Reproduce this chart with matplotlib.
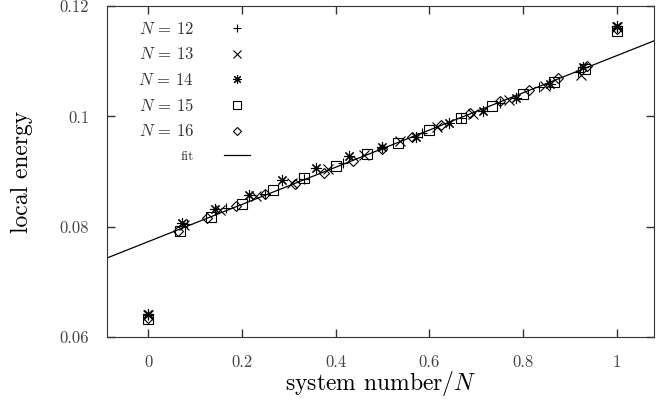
import matplotlib
matplotlib.use("Agg")
import matplotlib.pyplot as plt

plt.rcParams["font.family"] = "serif"
plt.rcParams["font.serif"] = ["cmr10", "DejaVu Serif"]
plt.rcParams["mathtext.fontset"] = "cm"
plt.rcParams["axes.formatter.use_mathtext"] = True

# site index k / N  ->  local energy, one list per chain length N
n12 = [0.0640, 0.0804, 0.0833, 0.0859, 0.0887, 0.0915, 0.0942, 0.0969, 0.0997,
       0.1025, 0.1053, 0.1080, 0.1160]
n13 = [0.0640, 0.0803, 0.0830, 0.0855, 0.0879, 0.0905, 0.0930, 0.0955, 0.0980,
       0.1005, 0.1030, 0.1055, 0.1075, 0.1162]
n14 = [0.0642, 0.0806, 0.0832, 0.0858, 0.0885, 0.0907, 0.0929, 0.0945, 0.0962,
       0.0988, 0.1010, 0.1033, 0.1058, 0.1090, 0.1163]
n15 = [0.0632, 0.0792, 0.0817, 0.0842, 0.0866, 0.0888, 0.0910, 0.0931, 0.0952,
       0.0975, 0.0997, 0.1019, 0.1041, 0.1063, 0.1085, 0.1155]
n16 = [0.0635, 0.0793, 0.0816, 0.0838, 0.0859, 0.0877, 0.0898, 0.0919, 0.0940,
       0.0962, 0.0984, 0.1006, 0.1028, 0.1048, 0.1069, 0.1091, 0.1158]
series = {12: n12, 13: n13, 14: n14, 15: n15, 16: n16}
markers = {12: "+", 13: "x", 14: (8, 2, 0), 15: "s", 16: "D"}
sizes = {12: 7, 13: 7, 14: 8, 15: 7, 16: 5}

fit_slope = 0.0337
fit_intercept = 0.0773
fit_x = [-0.1, 1.1]

fig = plt.figure(figsize=(6.66, 4.05), dpi=100)
ax = fig.add_axes([0.161, 0.168, 0.821, 0.817])

for n, vals in series.items():
    xs = [k / n for k in range(n + 1)]
    ax.plot(xs, vals, linestyle="none", marker=markers[n], ms=sizes[n],
            mfc="none", mec="black", mew=0.8, label=rf"$N\,=\,{n}$")

ax.plot(fit_x, [fit_intercept + fit_slope * x for x in fit_x],
        color="black", lw=0.9, label="fit")

ax.set_xlim(-0.088, 1.08)
ax.set_ylim(0.06, 0.12)
ax.set_xticks([0, 0.2, 0.4, 0.6, 0.8, 1])
ax.set_xticklabels(["0", "0.2", "0.4", "0.6", "0.8", "1"])
ax.set_yticks([0.06, 0.08, 0.1, 0.12])
ax.set_yticklabels(["0.06", "0.08", "0.1", "0.12"])
ax.tick_params(direction="in", top=True, right=True, length=6, width=1,
               color="#333333", labelcolor="#444444", labelsize=12, pad=13)
for s in ax.spines.values():
    s.set_color("#333333")

ax.set_xlabel(r"system number$/N$", fontsize=17, labelpad=-1)
ax.set_ylabel("local energy", fontsize=17, labelpad=19)

leg = ax.legend(loc="upper left", bbox_to_anchor=(0.045, 0.975),
                borderaxespad=0, frameon=False, markerfirst=False,
                fontsize=12, handlelength=1.6, handletextpad=1.8,
                labelspacing=0.56, markerscale=0.8)
for t in leg.get_texts():
    t.set_color("#333333")
leg.get_texts()[-1].set_fontsize(10)

fig.savefig("out.png", dpi=100)
